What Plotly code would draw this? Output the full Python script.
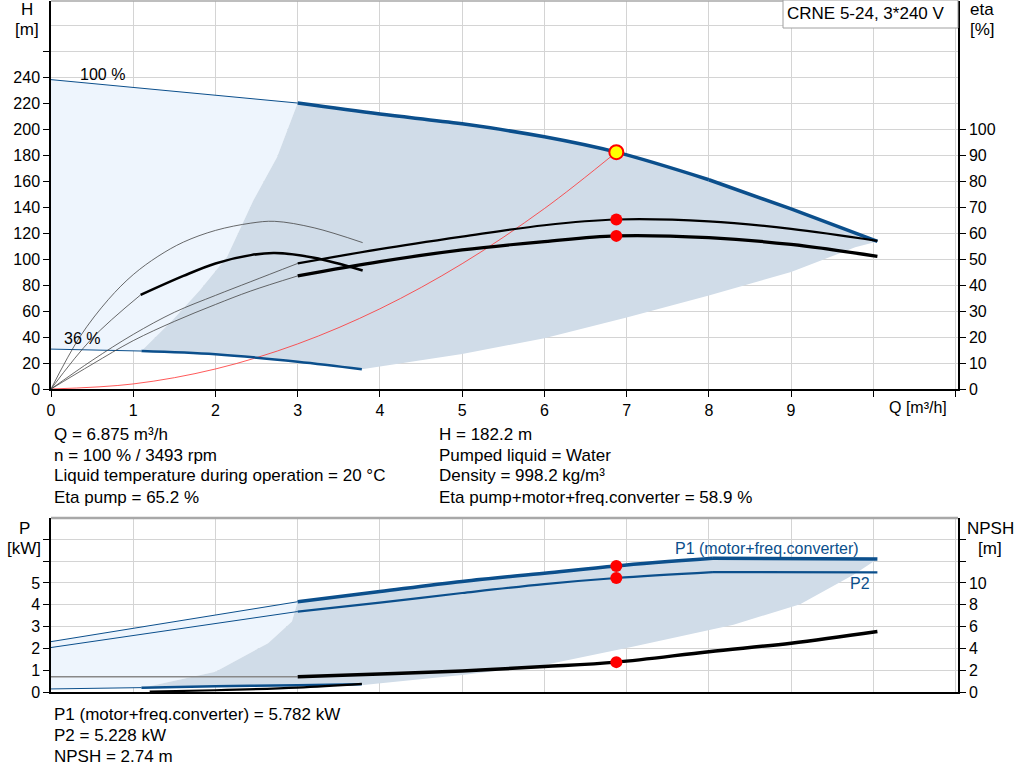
import plotly.graph_objects as go

W, H = 1024, 781

BLUE = '#0b4f8c'
LIGHT = '#eef5fd'
DARK = '#d0dce8'
GRID = '#d4d4d4'
FONT = 'Arial, Liberation Sans, sans-serif'

# ---- top chart: head / efficiency ----
q_h100_thin = [0, 3]
h_h100_thin = [238, 220]
q_h100 = [3, 4, 5, 6, 6.875, 8]
h_h100 = [220, 211.5, 204, 194, 182.2, 161]
q_h100_tail = [8, 9, 10.05]
h_h100_tail = [161, 138.5, 113.5]

q_hmin_thin = [0, 1.1]
h_hmin_thin = [30.7, 29.2]
q_hmin = [1.1, 2, 3, 3.78]
h_hmin = [29.2, 26.7, 21, 15.2]

q_sys = [0, 1, 2, 3, 4, 5, 6, 6.875]
h_sys = [0, 3.9, 15.4, 34.7, 61.7, 96.4, 138.8, 182.2]

# eta pump, 100 % speed
q_etap_thin = [0, 0.5, 1, 1.5, 2, 2.43, 3]
e_etap_thin = [0, 11, 21, 29.5, 36, 41.3, 48.3]
q_etap = [3, 4, 5, 6, 6.875, 8, 9, 10.05]
e_etap = [48.3, 53.8, 58.6, 63, 65.2, 64.5, 61.6, 57]

# eta pump+motor+freq.converter, 100 % speed
q_etat_thin = [0, 0.5, 1, 1.5, 2, 2.43, 3]
e_etat_thin = [0, 9.5, 18.6, 26, 32.5, 37.7, 43.5]
q_etat = [3, 4, 5, 6, 6.875, 8, 9, 10.05]
e_etat = [43.5, 49, 53.5, 56.7, 58.9, 58.2, 55.6, 51]

# eta curves at 36 % speed
q_etap_min = [0, 0.35, 0.7, 1, 1.3, 1.61, 2, 2.43, 2.72, 3.2, 3.79]
e_etap_min = [0, 20, 34.5, 44, 51, 56.5, 61, 63.8, 64.5, 62, 56.3]
q_etat_min_thin = [0, 0.5, 1.09]
e_etat_min_thin = [0, 19.5, 36.2]
q_etat_min = [1.09, 1.61, 2, 2.43, 2.72, 3.2, 3.79]
e_etat_min = [36.2, 43.5, 48.3, 51.5, 52.3, 50.5, 45.6]

# operating area edges
q_edge_left = [1.1, 1.48, 1.81, 2.14, 2.46, 2.75, 3]
h_edge_left = [29.2, 53, 76, 101.5, 145, 178.5, 220]
q_edge_low = [10.05, 9.78, 9, 8, 7, 6, 5, 3.8]
h_edge_low = [113.5, 109, 90, 72, 55, 39, 27, 15.3]

# ---- bottom chart: power / NPSH ----
q_p1_thin = [0, 3]
p_p1_thin = [2.31, 4.14]
q_p1 = [3, 4, 5, 6, 6.875, 8.05]
p_p1 = [4.14, 4.61, 5.07, 5.45, 5.782, 6.13]
q_p1_tail = [8.05, 10.05]
p_p1_tail = [6.13, 6.1]

q_p2_thin = [0, 3]
p_p2_thin = [2.04, 3.69]
q_p2 = [3, 4, 5, 6, 6.875, 8.05]
p_p2 = [3.69, 4.1, 4.54, 4.95, 5.228, 5.5]
q_p2_tail = [8.05, 10.05]
p_p2_tail = [5.5, 5.49]

q_npsh_thin = [0, 3]
n_npsh_thin = [1.41, 1.41]
q_npsh = [3, 4, 5, 6, 6.875, 8, 9, 10.05]
n_npsh = [1.41, 1.65, 1.93, 2.33, 2.74, 3.7, 4.48, 5.55]

q_p1_min_thin = [0, 1.1]
p_p1_min_thin = [0.14, 0.2]
q_p1_min = [1.1, 2, 3, 3.78]
p_p1_min = [0.2, 0.26, 0.31, 0.36]
q_p2_min = [1.2, 2, 3, 3.78]
p_p2_min = [0.02, 0.08, 0.2, 0.37]

q_pedge_left = [1.1, 2.0, 2.64, 2.93, 3]
p_pedge_left = [0.18, 0.93, 2.24, 3.23, 4.14]
q_pedge_low = [10.05, 9.76, 9.11, 8.3, 7.1, 6, 5, 3.8]
p_pedge_low = [6.1, 5.38, 4.03, 3.08, 2.1, 1.24, 0.78, 0.32]

q_duty = 6.875


def px(x):
    return x / W


def py(y):
    return 1 - y / H


def line(x, y, color, width, yaxis='y', xaxis='x', shape='spline'):
    return go.Scatter(x=x, y=y, mode='lines', xaxis=xaxis, yaxis=yaxis,
                      line=dict(color=color, width=width, shape=shape),
                      hoverinfo='skip', showlegend=False)


def area(x, y, color, yaxis='y', xaxis='x'):
    return go.Scatter(x=x, y=y, mode='lines', fill='toself', fillcolor=color,
                      line=dict(width=0), xaxis=xaxis, yaxis=yaxis,
                      hoverinfo='skip', showlegend=False)


fig = go.Figure()

# top chart areas
light_q = [0, 0] + q_edge_left[::-1] + q_hmin_thin[::-1]
light_h = [h_hmin_thin[0], h_h100_thin[0]] + h_edge_left[::-1] + h_hmin_thin[::-1]
fig.add_trace(area(light_q, light_h, LIGHT))
dark_q = q_edge_left + q_h100[1:] + q_h100_tail[1:] + q_edge_low[1:] + q_hmin[::-1]
dark_h = h_edge_left + h_h100[1:] + h_h100_tail[1:] + h_edge_low[1:] + h_hmin[::-1]
fig.add_trace(area(dark_q, dark_h, DARK))

# top chart curves
fig.add_trace(line(q_sys, h_sys, '#ff3030', 0.8))
fig.add_trace(line(q_h100_thin, h_h100_thin, BLUE, 1, shape='linear'))
fig.add_trace(line(q_h100, h_h100, BLUE, 3.5))
fig.add_trace(line(q_h100_tail, h_h100_tail, BLUE, 3.5, shape='linear'))
fig.add_trace(line(q_hmin_thin, h_hmin_thin, BLUE, 1, shape='linear'))
fig.add_trace(line(q_hmin, h_hmin, BLUE, 2.5))

fig.add_trace(line(q_etap_min, e_etap_min, '#444444', 0.8, yaxis='y2'))
fig.add_trace(line(q_etat_min_thin, e_etat_min_thin, '#444444', 0.8, yaxis='y2'))
fig.add_trace(line(q_etat_min, e_etat_min, 'black', 2.5, yaxis='y2'))
fig.add_trace(line(q_etap_thin, e_etap_thin, '#444444', 0.8, yaxis='y2'))
fig.add_trace(line(q_etat_thin, e_etat_thin, '#444444', 0.8, yaxis='y2'))
fig.add_trace(line(q_etap, e_etap, 'black', 2.2, yaxis='y2'))
fig.add_trace(line(q_etat, e_etat, 'black', 3.2, yaxis='y2'))

fig.add_trace(go.Scatter(x=[q_duty, q_duty], y=[65.2, 58.9], mode='markers', yaxis='y2',
                         marker=dict(color='red', size=12), hoverinfo='skip', showlegend=False))
fig.add_trace(go.Scatter(x=[q_duty], y=[182.2], mode='markers',
                         marker=dict(color='#ffff00', size=14, line=dict(color='red', width=2)),
                         hoverinfo='skip', showlegend=False))

# bottom chart areas
plight_q = [0, 0] + q_pedge_left[::-1] + q_p1_min_thin[::-1]
plight_p = [p_p1_min_thin[0], p_p1_thin[0]] + p_pedge_left[::-1] + p_p1_min_thin[::-1]
fig.add_trace(area(plight_q, plight_p, LIGHT, yaxis='y3', xaxis='x2'))
pdark_q = q_pedge_left + q_p1[1:] + q_p1_tail[1:] + q_pedge_low[1:] + q_p1_min[::-1]
pdark_p = p_pedge_left + p_p1[1:] + p_p1_tail[1:] + p_pedge_low[1:] + p_p1_min[::-1]
fig.add_trace(area(pdark_q, pdark_p, DARK, yaxis='y3', xaxis='x2'))

fig.add_trace(line(q_p1_thin, p_p1_thin, BLUE, 1, yaxis='y3', xaxis='x2', shape='linear'))
fig.add_trace(line(q_p1, p_p1, BLUE, 3.5, yaxis='y3', xaxis='x2'))
fig.add_trace(line(q_p1_tail, p_p1_tail, BLUE, 3.5, yaxis='y3', xaxis='x2', shape='linear'))
fig.add_trace(line(q_p2_thin, p_p2_thin, BLUE, 1, yaxis='y3', xaxis='x2', shape='linear'))
fig.add_trace(line(q_p2, p_p2, BLUE, 2.2, yaxis='y3', xaxis='x2'))
fig.add_trace(line(q_p2_tail, p_p2_tail, BLUE, 2.2, yaxis='y3', xaxis='x2', shape='linear'))
fig.add_trace(line(q_p1_min_thin, p_p1_min_thin, BLUE, 1, yaxis='y3', xaxis='x2', shape='linear'))
fig.add_trace(line(q_p1_min, p_p1_min, BLUE, 2.5, yaxis='y3', xaxis='x2'))
fig.add_trace(line(q_p2_min, p_p2_min, 'black', 2.2, yaxis='y3', xaxis='x2'))
fig.add_trace(line(q_npsh_thin, n_npsh_thin, '#888888', 1.5, yaxis='y4', xaxis='x2', shape='linear'))
fig.add_trace(line(q_npsh, n_npsh, 'black', 3.5, yaxis='y4', xaxis='x2'))

fig.add_trace(go.Scatter(x=[q_duty, q_duty], y=[5.782, 5.228], mode='markers', xaxis='x2', yaxis='y3',
                         marker=dict(color='red', size=12), hoverinfo='skip', showlegend=False))
fig.add_trace(go.Scatter(x=[q_duty], y=[2.74], mode='markers', xaxis='x2', yaxis='y4',
                         marker=dict(color='red', size=12), hoverinfo='skip', showlegend=False))

x_dom = [px(51), px(958)]
x_range = [0, 11.03]
tick_font = dict(family=FONT, size=16, color='black')

axis_common = dict(showline=True, linecolor='black', linewidth=1.5, zeroline=False, automargin=False,
                   ticks='outside', ticklen=6, tickcolor='black', tickfont=tick_font)

fig.update_layout(
    width=W, height=H, margin=dict(l=0, r=0, t=0, b=0),
    paper_bgcolor='white', plot_bgcolor='white',
    font=dict(family=FONT, size=17, color='black'),
    xaxis=dict(domain=x_dom, range=x_range, anchor='y',
               tickvals=list(range(12)), ticktext=[str(i) for i in range(10)] + ['', ''],
               showgrid=True, gridcolor=GRID, **axis_common),
    yaxis=dict(domain=[py(389), py(1)], range=[0, 298.5], anchor='x',
               tickvals=list(range(0, 261, 20)),
               ticktext=[str(v) for v in range(0, 241, 20)] + [''],
               showgrid=True, gridcolor=GRID,
               minor=dict(tickvals=[280], showgrid=True, gridcolor=GRID, ticks=''),
               **axis_common),
    yaxis2=dict(overlaying='y', side='right', anchor='x', range=[0, 149.25],
                tickvals=list(range(0, 101, 10)), showgrid=False, **axis_common),
    xaxis2=dict(domain=x_dom, range=x_range, anchor='y3', tickvals=list(range(12)),
                showticklabels=False, showgrid=True, gridcolor=GRID, automargin=False,
                showline=True, linecolor='black', linewidth=1.5, zeroline=False, ticks=''),
    yaxis3=dict(domain=[py(692), py(518)], range=[0, 7.98], anchor='x2',
                tickvals=list(range(8)), ticktext=[str(v) for v in range(6)] + ['', ''],
                showgrid=True, gridcolor=GRID, **axis_common),
    yaxis4=dict(overlaying='y3', side='right', anchor='x2', range=[0, 15.96],
                tickvals=list(range(0, 15, 2)), ticktext=[str(v) for v in range(0, 11, 2)] + ['', ''],
                showgrid=False, **axis_common),
)

shapes = [
    dict(type='line', xref='paper', yref='paper', x0=px(51), x1=px(958), y0=py(1), y1=py(1),
         line=dict(color='#a8a8a8', width=1.5)),
    dict(type='line', xref='paper', yref='paper', x0=px(51), x1=px(958), y0=py(518), y1=py(518),
         line=dict(color='#a8a8a8', width=2.5)),
    dict(type='rect', xref='paper', yref='paper', x0=px(783), x1=px(958), y0=py(28), y1=py(0),
         fillcolor='white', line=dict(color='#a0a0a0', width=1), layer='above'),
]
fig.update_layout(shapes=shapes)


def text(x, y, s, anchor='left', color='black', size=17):
    fig.add_annotation(x=px(x), y=py(y), xref='paper', yref='paper', text=s, showarrow=False,
                       xanchor=anchor, yanchor='middle', font=dict(family=FONT, size=size, color=color))


text(866, 14, 'CRNE 5-24, 3*240 V', anchor='center')
text(27, 10, 'H', anchor='center')
text(27, 30, '[m]', anchor='center')
text(982, 10, 'eta', anchor='center')
text(982, 30, '[%]', anchor='center')
text(918, 407, 'Q [m³/h]', anchor='center', size=16)
text(78, 74, '100 %', size=16)
text(62, 338, '36 %', size=16)

text(52, 434, 'Q = 6.875 m³/h')
text(52, 455, 'n = 100 % / 3493 rpm')
text(52, 476, 'Liquid temperature during operation = 20 °C')
text(52, 497, 'Eta pump = 65.2 %')
text(437, 434, 'H = 182.2 m')
text(437, 455, 'Pumped liquid = Water')
text(437, 476, 'Density = 998.2 kg/m³')
text(437, 497, 'Eta pump+motor+freq.converter = 58.9 %')

text(24, 528, 'P', anchor='center')
text(24, 548, '[kW]', anchor='center')
text(990, 528, 'NPSH', anchor='center')
text(990, 548, '[m]', anchor='center')
text(767, 548, 'P1 (motor+freq.converter)', anchor='center', color=BLUE, size=16)
text(872, 583, 'P2', anchor='right', color=BLUE, size=16)

text(52, 714, 'P1 (motor+freq.converter) = 5.782 kW')
text(52, 735, 'P2 = 5.228 kW')
text(52, 756, 'NPSH = 2.74 m')

# the page's default body margin would shift the whole chart by 8px
fig.write_html("out.html", config={'displayModeBar': False},
               post_script="document.body.style.margin = '0';")
